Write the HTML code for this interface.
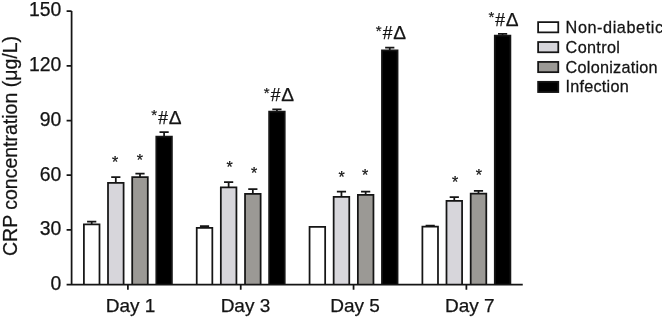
<!DOCTYPE html><html><head><meta charset="utf-8"><title>CRP concentration</title><style>html,body{margin:0;padding:0;background:#fff;overflow:hidden;}svg{display:block;}text{font-family:'Liberation Sans',Arial,Helvetica,sans-serif;fill:#141414;stroke:#141414;stroke-width:0.25px;}</style></head><body>
<svg width="662" height="320" viewBox="0 0 662 320">
<rect width="662" height="320" fill="#fff"/>
<path d="M91.70 224.30V221.60M87.10 221.60H96.30" stroke="#151515" stroke-width="1.75" fill="none"/>
<path d="M83.90 284.60V224.30H99.50V284.60Z" fill="#ffffff"/>
<path d="M83.90 284.60V224.30H99.50V284.60" fill="none" stroke="#151515" stroke-width="1.75" stroke-linejoin="miter"/>
<path d="M115.80 182.90V177.00M111.20 177.00H120.40" stroke="#151515" stroke-width="1.75" fill="none"/>
<path d="M108.00 284.60V182.90H123.60V284.60Z" fill="#d7d6db"/>
<path d="M108.00 284.60V182.90H123.60V284.60" fill="none" stroke="#151515" stroke-width="1.75" stroke-linejoin="miter"/>
<path d="M140.00 177.00V173.70M135.40 173.70H144.60" stroke="#151515" stroke-width="1.75" fill="none"/>
<path d="M132.20 284.60V177.00H147.80V284.60Z" fill="#9b9995"/>
<path d="M132.20 284.60V177.00H147.80V284.60" fill="none" stroke="#151515" stroke-width="1.75" stroke-linejoin="miter"/>
<path d="M164.10 136.50V132.00M159.50 132.00H168.70" stroke="#151515" stroke-width="1.75" fill="none"/>
<path d="M156.30 284.60V136.50H171.90V284.60Z" fill="#000000"/>
<path d="M156.30 284.60V136.50H171.90V284.60" fill="none" stroke="#151515" stroke-width="1.75" stroke-linejoin="miter"/>
<path d="M204.53 227.80V226.00M199.93 226.00H209.13" stroke="#151515" stroke-width="1.75" fill="none"/>
<path d="M196.73 284.60V227.80H212.33V284.60Z" fill="#ffffff"/>
<path d="M196.73 284.60V227.80H212.33V284.60" fill="none" stroke="#151515" stroke-width="1.75" stroke-linejoin="miter"/>
<path d="M228.63 187.40V182.10M224.03 182.10H233.23" stroke="#151515" stroke-width="1.75" fill="none"/>
<path d="M220.83 284.60V187.40H236.43V284.60Z" fill="#d7d6db"/>
<path d="M220.83 284.60V187.40H236.43V284.60" fill="none" stroke="#151515" stroke-width="1.75" stroke-linejoin="miter"/>
<path d="M252.83 193.80V189.10M248.23 189.10H257.43" stroke="#151515" stroke-width="1.75" fill="none"/>
<path d="M245.03 284.60V193.80H260.63V284.60Z" fill="#9b9995"/>
<path d="M245.03 284.60V193.80H260.63V284.60" fill="none" stroke="#151515" stroke-width="1.75" stroke-linejoin="miter"/>
<path d="M276.93 111.50V109.40M272.33 109.40H281.53" stroke="#151515" stroke-width="1.75" fill="none"/>
<path d="M269.13 284.60V111.50H284.73V284.60Z" fill="#000000"/>
<path d="M269.13 284.60V111.50H284.73V284.60" fill="none" stroke="#151515" stroke-width="1.75" stroke-linejoin="miter"/>
<path d="M317.36 226.90V226.90M312.76 226.90H321.96" stroke="#151515" stroke-width="1.75" fill="none"/>
<path d="M309.56 284.60V226.90H325.16V284.60Z" fill="#ffffff"/>
<path d="M309.56 284.60V226.90H325.16V284.60" fill="none" stroke="#151515" stroke-width="1.75" stroke-linejoin="miter"/>
<path d="M341.46 196.80V191.50M336.86 191.50H346.06" stroke="#151515" stroke-width="1.75" fill="none"/>
<path d="M333.66 284.60V196.80H349.26V284.60Z" fill="#d7d6db"/>
<path d="M333.66 284.60V196.80H349.26V284.60" fill="none" stroke="#151515" stroke-width="1.75" stroke-linejoin="miter"/>
<path d="M365.66 194.80V191.70M361.06 191.70H370.26" stroke="#151515" stroke-width="1.75" fill="none"/>
<path d="M357.86 284.60V194.80H373.46V284.60Z" fill="#9b9995"/>
<path d="M357.86 284.60V194.80H373.46V284.60" fill="none" stroke="#151515" stroke-width="1.75" stroke-linejoin="miter"/>
<path d="M389.76 50.30V47.50M385.16 47.50H394.36" stroke="#151515" stroke-width="1.75" fill="none"/>
<path d="M381.96 284.60V50.30H397.56V284.60Z" fill="#000000"/>
<path d="M381.96 284.60V50.30H397.56V284.60" fill="none" stroke="#151515" stroke-width="1.75" stroke-linejoin="miter"/>
<path d="M430.19 226.60V225.50M425.59 225.50H434.79" stroke="#151515" stroke-width="1.75" fill="none"/>
<path d="M422.39 284.60V226.60H437.99V284.60Z" fill="#ffffff"/>
<path d="M422.39 284.60V226.60H437.99V284.60" fill="none" stroke="#151515" stroke-width="1.75" stroke-linejoin="miter"/>
<path d="M454.29 200.90V197.10M449.69 197.10H458.89" stroke="#151515" stroke-width="1.75" fill="none"/>
<path d="M446.49 284.60V200.90H462.09V284.60Z" fill="#d7d6db"/>
<path d="M446.49 284.60V200.90H462.09V284.60" fill="none" stroke="#151515" stroke-width="1.75" stroke-linejoin="miter"/>
<path d="M478.49 193.50V190.80M473.89 190.80H483.09" stroke="#151515" stroke-width="1.75" fill="none"/>
<path d="M470.69 284.60V193.50H486.29V284.60Z" fill="#9b9995"/>
<path d="M470.69 284.60V193.50H486.29V284.60" fill="none" stroke="#151515" stroke-width="1.75" stroke-linejoin="miter"/>
<path d="M502.59 35.50V33.80M497.99 33.80H507.19" stroke="#151515" stroke-width="1.75" fill="none"/>
<path d="M494.79 284.60V35.50H510.39V284.60Z" fill="#000000"/>
<path d="M494.79 284.60V35.50H510.39V284.60" fill="none" stroke="#151515" stroke-width="1.75" stroke-linejoin="miter"/>
<path d="M71.6 11.1V284.6M66.6 284.6H522.75M66.6 229.90H71.6M66.6 175.20H71.6M66.6 120.50H71.6M66.6 65.80H71.6M66.6 11.10H71.6M127.90 284.6V289.8M240.73 284.6V289.8M353.56 284.6V289.8M466.39 284.6V289.8" stroke="#151515" stroke-width="1.75" fill="none"/>
<text x="61.4" y="289.90" font-size="19.4" text-anchor="end">0</text>
<text x="61.4" y="235.20" font-size="19.4" text-anchor="end">30</text>
<text x="61.4" y="180.50" font-size="19.4" text-anchor="end">60</text>
<text x="61.4" y="125.80" font-size="19.4" text-anchor="end">90</text>
<text x="61.4" y="71.10" font-size="19.4" text-anchor="end">120</text>
<text x="61.4" y="16.40" font-size="19.4" text-anchor="end">150</text>
<text x="105.74" y="312.3" font-size="19">Day 1</text>
<text x="220.64" y="312.3" font-size="19">Day 3</text>
<text x="330.24" y="312.3" font-size="19">Day 5</text>
<text x="444.94" y="312.3" font-size="19">Day 7</text>
<text transform="translate(17.1 256) rotate(-90)" font-size="19.5">CRP concentration (&#956;g/L)</text>
<text x="115.10" y="167.60" font-size="16" text-anchor="middle" stroke="#141414" stroke-width="0.2">*</text>
<text x="139.75" y="165.90" font-size="16" text-anchor="middle" stroke="#141414" stroke-width="0.2">*</text>
<text x="229.60" y="173.00" font-size="16" text-anchor="middle" stroke="#141414" stroke-width="0.2">*</text>
<text x="254.15" y="179.00" font-size="16" text-anchor="middle" stroke="#141414" stroke-width="0.2">*</text>
<text x="341.55" y="182.90" font-size="16" text-anchor="middle" stroke="#141414" stroke-width="0.2">*</text>
<text x="365.20" y="180.90" font-size="16" text-anchor="middle" stroke="#141414" stroke-width="0.2">*</text>
<text x="455.20" y="187.55" font-size="16" text-anchor="middle" stroke="#141414" stroke-width="0.2">*</text>
<text x="478.95" y="180.90" font-size="16" text-anchor="middle" stroke="#141414" stroke-width="0.2">*</text>
<text><tspan x="151.35" y="120.15" font-size="15" stroke-width="0.2">*</tspan><tspan x="158.25" y="123.60" font-size="17.5">#</tspan><tspan x="168.70" y="123.60" font-size="19.2">&#916;</tspan></text>
<text><tspan x="263.85" y="97.95" font-size="15" stroke-width="0.2">*</tspan><tspan x="270.75" y="101.40" font-size="17.5">#</tspan><tspan x="281.20" y="101.40" font-size="19.2">&#916;</tspan></text>
<text><tspan x="375.85" y="35.55" font-size="15" stroke-width="0.2">*</tspan><tspan x="382.75" y="39.00" font-size="17.5">#</tspan><tspan x="393.20" y="39.00" font-size="19.2">&#916;</tspan></text>
<text><tspan x="488.45" y="22.35" font-size="15" stroke-width="0.2">*</tspan><tspan x="495.35" y="25.80" font-size="17.5">#</tspan><tspan x="505.80" y="25.80" font-size="19.2">&#916;</tspan></text>
<rect x="538.12" y="22.12" width="20.15" height="10.25" fill="#ffffff" stroke="#151515" stroke-width="1.75"/>
<text transform="translate(565.6 33.45) scale(1.03 1)" font-size="15.8" letter-spacing="0.55">Non-diabetic</text>
<rect x="538.12" y="42.02" width="20.15" height="10.25" fill="#d7d6db" stroke="#151515" stroke-width="1.75"/>
<text transform="translate(565.6 52.98) scale(1.03 1)" font-size="15.8" letter-spacing="0.30">Control</text>
<rect x="538.12" y="61.92" width="20.15" height="10.25" fill="#9b9995" stroke="#151515" stroke-width="1.75"/>
<text transform="translate(565.6 72.51) scale(1.03 1)" font-size="15.8" letter-spacing="0.22">Colonization</text>
<rect x="538.12" y="81.82" width="20.15" height="10.25" fill="#000000" stroke="#151515" stroke-width="1.75"/>
<text transform="translate(565.6 92.04) scale(1.03 1)" font-size="15.8" letter-spacing="0.20">Infection</text>
</svg></body></html>
